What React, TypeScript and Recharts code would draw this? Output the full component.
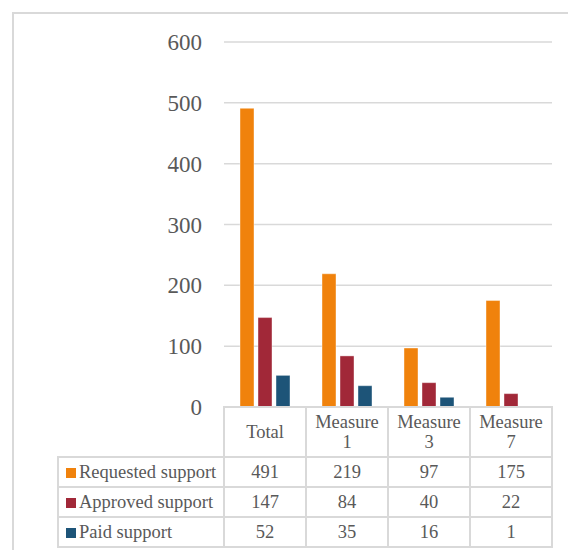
import { BarChart, Bar, XAxis, YAxis, CartesianGrid } from 'recharts';

const categories = ['Total', 'Measure 1', 'Measure 3', 'Measure 7'];
const requestedSupport = [491, 219, 97, 175];
const approvedSupport = [147, 84, 40, 22];
const paidSupport = [52, 35, 16, 1];
const yTicks = [0, 100, 200, 300, 400, 500, 600];

const series = [
    { key: 'requested', name: 'Requested support', values: requestedSupport, color: '#f0820c' },
    { key: 'approved', name: 'Approved support', values: approvedSupport, color: '#a12838' },
    { key: 'paid', name: 'Paid support', values: paidSupport, color: '#1d5478' },
];

const data = categories.map((category, i) => ({
    category,
    requested: requestedSupport[i],
    approved: approvedSupport[i],
    paid: paidSupport[i],
}));

const FONT = '"Liberation Serif", "Times New Roman", serif';
const TEXT = '#595959';
const LINE = '#d9d9d9';

const cell: React.CSSProperties = {
    border: `2px solid ${LINE}`,
    padding: 0,
    textAlign: 'center',
    verticalAlign: 'middle',
};

export default function App() {
    return (
        <div style={{ position: 'absolute', left: 0, top: 0, width: 568, height: 550, overflow: 'hidden', background: '#fff', fontFamily: FONT }}>
            {/* chart frame, right/bottom edges run off the picture */}
            <div style={{ position: 'absolute', left: 12, top: 12, width: 620, height: 620, border: `2px solid ${LINE}`, boxSizing: 'border-box' }} />

            <div style={{ position: 'absolute', left: 0, top: 0 }}>
                <BarChart
                    width={568}
                    height={550}
                    data={data}
                    margin={{ top: 42, right: 16, bottom: 143, left: 164 }}
                    barCategoryGap={16}
                    barGap={4}
                >
                    <CartesianGrid vertical={false} stroke={LINE} strokeWidth={1.5} />
                    <XAxis dataKey="category" hide />
                    <YAxis
                        width={60}
                        domain={[0, 600]}
                        ticks={yTicks}
                        axisLine={false}
                        tickLine={false}
                        tickMargin={16}
                        tick={{ fill: TEXT, fontSize: 23, fontFamily: FONT }}
                    />
                    {series.map(s => (
                        <Bar key={s.key} dataKey={s.key} name={s.name} fill={s.color} stroke="#ffffff" strokeOpacity={0.4} strokeWidth={1} isAnimationActive={false} />
                    ))}
                </BarChart>
            </div>

            {/* data table under the plot */}
            <table
                style={{
                    position: 'absolute',
                    left: 57,
                    top: 406,
                    borderCollapse: 'collapse',
                    tableLayout: 'fixed',
                    fontFamily: FONT,
                    fontSize: 18.5,
                    color: TEXT,
                }}
            >
                <colgroup>
                    <col style={{ width: 166 }} />
                    {categories.map(c => <col key={c} style={{ width: 82 }} />)}
                </colgroup>
                <tbody>
                    <tr style={{ height: 50 }}>
                        <td style={{ border: 'none' }} />
                        {categories.map(c => (
                            <td key={c} style={{ ...cell, lineHeight: '20px', padding: '0 4px' }}>{c}</td>
                        ))}
                    </tr>
                    {series.map(s => (
                        <tr key={s.key} style={{ height: 30 }}>
                            <td style={{ ...cell, textAlign: 'left', paddingLeft: 7, whiteSpace: 'nowrap' }}>
                                <span style={{ display: 'inline-block', width: 10, height: 10, background: s.color, marginRight: 3 }} />
                                {s.name}
                            </td>
                            {s.values.map((v, i) => (
                                <td key={i} style={cell}>{v}</td>
                            ))}
                        </tr>
                    ))}
                </tbody>
            </table>
        </div>
    );
}
